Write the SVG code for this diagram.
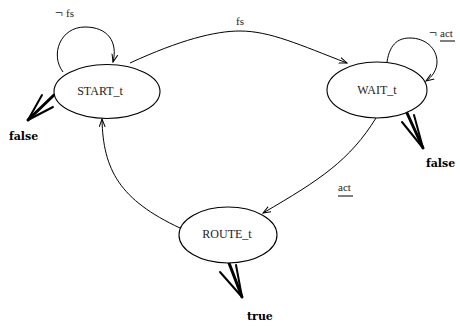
<svg xmlns="http://www.w3.org/2000/svg" width="460" height="327" viewBox="0 0 460 327">
<style>
.node ellipse{fill:#fff;stroke:#000;stroke-width:1.1}
.lbl{font-family:"Liberation Serif",serif;font-size:12px;fill:#222;text-anchor:middle}
.el{font-family:"Liberation Serif",serif;font-size:11px;fill:#222}
.neg{font-family:"Liberation Serif",serif;font-size:14px;fill:#222}
.out{font-family:"DejaVu Serif","Liberation Serif",serif;font-size:11px;font-weight:bold;fill:#000}
.edge{fill:none;stroke:#000;stroke-width:1}
.fat{stroke:#000;stroke-linecap:round;fill:none}
</style>
<defs>
<marker id="arr" markerWidth="9" markerHeight="8" refX="8" refY="3.5" orient="auto" markerUnits="userSpaceOnUse">
<path d="M0,0.5 L8,3.5 L0,6.5" fill="none" stroke="#000" stroke-width="1"/>
</marker>
</defs>
<g id="connectors">
<path class="edge" d="M63 72 C50 55,60 27,85 27 C108 27,118 42,113 62" marker-end="url(#arr)"/>
<path class="edge" d="M130 63 C180 40,215 31,240 31 C270 31,300 45,347 63" marker-end="url(#arr)"/>
<path class="edge" d="M387 62 C390 42,400 38,410 38 C425 38,437 48,437 62 C437 70,432 77,426 81" marker-end="url(#arr)"/>
<path class="edge" d="M376 118 C350 160,320 180,263 213" marker-end="url(#arr)"/>
<path class="edge" d="M180 228 C120 200,103 170,102 119" marker-end="url(#arr)"/>
<g id="start-out">
<line class="fat" x1="54" y1="95" x2="28" y2="120" stroke-width="3"/>
<line class="fat" x1="42" y1="95" x2="28" y2="120" stroke-width="2"/>
<line class="fat" x1="53" y1="107" x2="28" y2="120" stroke-width="2"/>
</g>
<g id="wait-out">
<line class="fat" x1="407" y1="113" x2="423" y2="148" stroke-width="3"/>
<line class="fat" x1="402" y1="122" x2="423" y2="148" stroke-width="2"/>
<line class="fat" x1="414" y1="115" x2="423" y2="148" stroke-width="2"/>
</g>
<g id="route-out">
<line class="fat" x1="229" y1="263" x2="242" y2="297" stroke-width="3"/>
<line class="fat" x1="220" y1="272" x2="242" y2="297" stroke-width="2"/>
<line class="fat" x1="236" y1="265" x2="242" y2="297" stroke-width="2"/>
</g>
<text class="neg" x="55" y="17">¬</text>
<text class="el" x="66" y="17">fs</text>
<text class="el" x="236" y="25">fs</text>
<text class="neg" x="429" y="37">¬</text>
<text class="el" x="440" y="37">act</text>
<line x1="440" y1="41" x2="455" y2="41" stroke="#000" stroke-width="1"/>
<text class="el" x="338" y="191">act</text>
<line x1="338" y1="196" x2="353" y2="196" stroke="#000" stroke-width="1"/>
</g>
<g id="START_t" class="node">
<ellipse cx="107" cy="91.5" rx="53" ry="27"/>
<text class="lbl" x="100" y="95">START_t</text>
</g>
<g id="WAIT_t" class="node">
<ellipse cx="377" cy="90" rx="50" ry="28"/>
<text class="lbl" x="377" y="94">WAIT_t</text>
</g>
<g id="ROUTE_t" class="node">
<ellipse cx="228" cy="235" rx="49" ry="28"/>
<text class="lbl" x="227" y="238">ROUTE_t</text>
</g>
<text class="out" x="9" y="140">false</text>
<text class="out" x="426" y="167">false</text>
<text class="out" x="247" y="320">true</text>
</svg>
